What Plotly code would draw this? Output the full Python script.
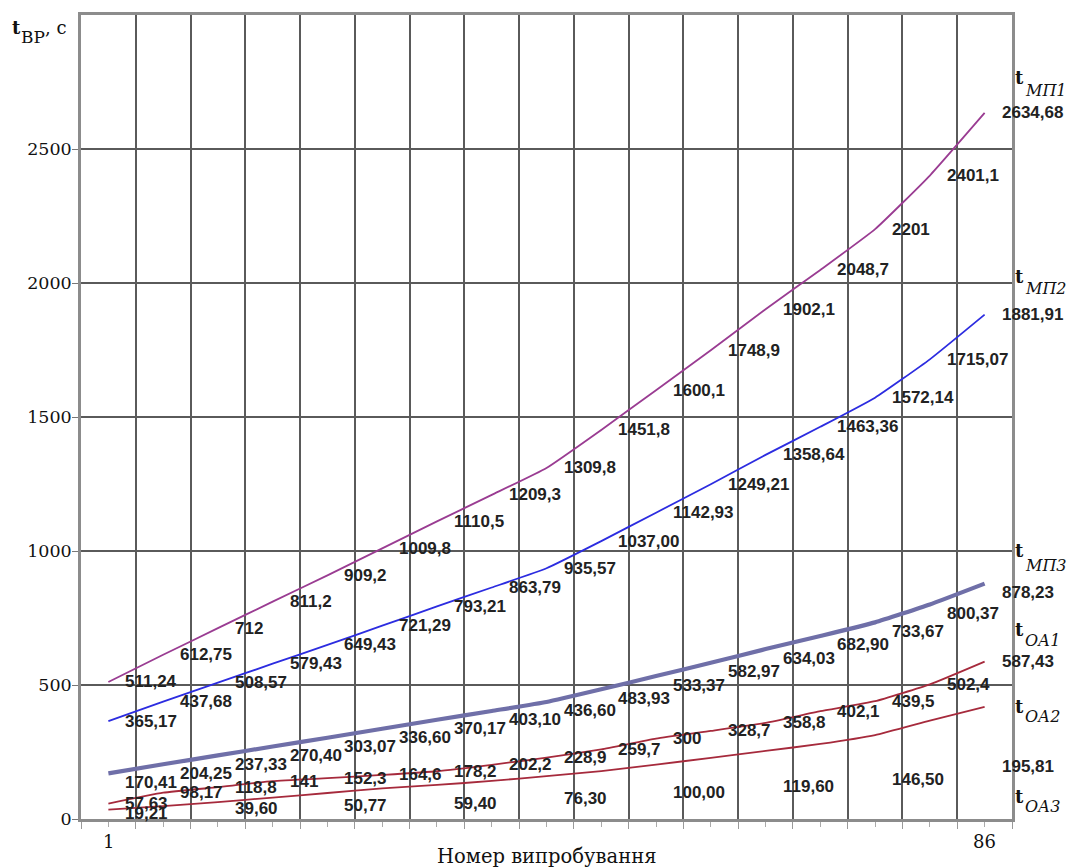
import plotly.graph_objects as go

# ---------------- data ----------------
x_tests = [1, 6.3125, 11.625, 16.9375, 22.25, 27.5625, 32.875, 38.1875, 43.5,
           48.8125, 54.125, 59.4375, 64.75, 70.0625, 75.375, 80.6875, 86]

mp1_labels = ["511,24", "612,75", "712", "811,2", "909,2", "1009,8", "1110,5", "1209,3",
              "1309,8", "1451,8", "1600,1", "1748,9", "1902,1", "2048,7", "2201", "2401,1", "2634,68"]
mp2_labels = ["365,17", "437,68", "508,57", "579,43", "649,43", "721,29", "793,21", "863,79",
              "935,57", "1037,00", "1142,93", "1249,21", "1358,64", "1463,36", "1572,14", "1715,07", "1881,91"]
mp3_labels = ["170,41", "204,25", "237,33", "270,40", "303,07", "336,60", "370,17", "403,10",
              "436,60", "483,93", "533,37", "582,97", "634,03", "682,90", "733,67", "800,37", "878,23"]
oa1_labels = ["57,63", "98,17", "118,8", "141", "152,3", "164,6", "178,2", "202,2",
              "228,9", "259,7", "300", "328,7", "358,8", "402,1", "439,5", "502,4", "587,43"]
oa2_values = [35, 48, 63, 80, 97, 114, 127, 142, 160, 179, 203, 228, 254, 280, 313, 367, 418]
oa3_x = [1, 11.625, 22.25, 32.875, 43.5, 54.125, 64.75, 75.375, 86]
oa3_labels = ["19,21", "39,60", "50,77", "59,40", "76,30", "100,00", "119,60", "146,50", "195,81"]

y_ticks = [0, 500, 1000, 1500, 2000, 2500]
x_tick_labels = [1, 86]
series_names = ["МП1", "МП2", "МП3", "ОА1", "ОА2", "ОА3"]


def num(lbls):
    return [float(s.replace(",", ".")) for s in lbls]


mp1 = num(mp1_labels)
mp2 = num(mp2_labels)
mp3 = num(mp3_labels)
oa1 = num(oa1_labels)
oa3 = num(oa3_labels)

# ---------------- layout geometry ----------------
W, H = 1068, 868
L, R, T, B = 81, 56, 15, 49
PW, PH = W - L - R, H - T - B
X0, XD = -1.65625, 5.3125


def px_x(px):
    return (px - L) / PW


def px_y(py):
    return (H - B - py) / PH


fig = go.Figure()

line_specs = [
    (mp1, "#9a3c92", 1.8),
    (mp2, "#2c2ce0", 1.8),
    (mp3, "#6f6fa8", 4.2),
    (oa1, "#a62a3c", 1.8),
    (oa2_values, "#a62a3c", 1.8),
]
for vals, col, w in line_specs:
    fig.add_trace(go.Scatter(x=x_tests, y=vals, mode="lines",
                             line=dict(color=col, width=w, shape="spline", smoothing=0.4),
                             hoverinfo="skip", showlegend=False))

lab_font = dict(family="Liberation Sans, Arial, sans-serif",
                size=17, color="#222222", weight="bold")
annotations = []
for xs, lbls, vals, ysh in [(x_tests, mp1_labels, mp1, 0), (x_tests, mp2_labels, mp2, 0),
                            (x_tests, mp3_labels, mp3, -9), (x_tests, oa1_labels, oa1, 0),
                            (oa3_x, oa3_labels, oa3, 0)]:
    for xv, s, v in zip(xs, lbls, vals):
        annotations.append(dict(x=xv, y=v, xref="x", yref="y", text=s, showarrow=False,
                                xanchor="left", yanchor="middle", xshift=15, yshift=ysh,
                                font=lab_font))

serif = "DejaVu Serif, Liberation Serif, serif"
# series names at the right
t_y = [78, 276, 550, 629, 706, 796]
sub_y = [90, 288, 565, 640, 716, 806]
for nm, ty, sy in zip(series_names, t_y, sub_y):
    annotations.append(dict(x=px_x(1013), y=px_y(ty), xref="paper", yref="paper",
                            text="<b>t</b>", showarrow=False, xanchor="left", yanchor="middle",
                            font=dict(family=serif, size=18, color="#111")))
    annotations.append(dict(x=px_x(1023), y=px_y(sy), xref="paper", yref="paper",
                            text="<i>" + nm + "</i>", showarrow=False, xanchor="left",
                            yanchor="middle", font=dict(family=serif, size=16, color="#111")))

# y axis title
annotations.append(dict(x=px_x(10), y=px_y(28), xref="paper", yref="paper", text="<b>t</b>",
                        showarrow=False, xanchor="left", yanchor="middle",
                        font=dict(family=serif, size=18, color="#111")))
annotations.append(dict(x=px_x(19), y=px_y(37), xref="paper", yref="paper", text="ВР",
                        showarrow=False, xanchor="left", yanchor="middle",
                        font=dict(family=serif, size=17, color="#111")))
annotations.append(dict(x=px_x(43), y=px_y(27), xref="paper", yref="paper", text=", с",
                        showarrow=False, xanchor="left", yanchor="middle",
                        font=dict(family=serif, size=18, color="#111")))

# x tick labels
for xv in x_tick_labels:
    annotations.append(dict(x=xv, y=px_y(841), xref="x", yref="paper", text=str(xv),
                            showarrow=False, xanchor="center", yanchor="middle",
                            font=dict(family=serif, size=18, color="#111")))
# x title
annotations.append(dict(x=0.5, y=px_y(856), xref="paper", yref="paper",
                        text="Номер випробування", showarrow=False, xanchor="center",
                        yanchor="middle", font=dict(family=serif, size=19.5, color="#111")))

fig.update_layout(
    width=W, height=H,
    margin=dict(l=L, r=R, t=T, b=B, pad=0),
    paper_bgcolor="white", plot_bgcolor="white",
    annotations=annotations,
    xaxis=dict(range=[X0, X0 + 17 * XD], tick0=X0, dtick=XD, showgrid=True,
               gridcolor="#5a5a5a", gridwidth=1.5, showticklabels=False,
               ticks="outside", ticklen=7, tickcolor="#999", tickwidth=1.2,
               minor=dict(tick0=X0, dtick=XD / 2, ticks="outside", ticklen=5,
                          tickcolor="#aaa", showgrid=False),
               showline=True, linecolor="#8c8c8c", linewidth=2.5, mirror=True,
               zeroline=False, fixedrange=True),
    yaxis=dict(range=[0, 3000], tickvals=y_ticks, ticktext=[str(v) for v in y_ticks],
               showgrid=True, gridcolor="#5a5a5a", gridwidth=1.5,
               ticks="outside", ticklen=6, tickcolor="#777", tickwidth=1.4,
               ticklabelstandoff=-3,
               tickfont=dict(family=serif, size=17.5, color="#111"),
               showline=True, linecolor="#8c8c8c", linewidth=2.5, mirror=True,
               zeroline=False, fixedrange=True),
)

fig.write_html("out.html", config={"displayModeBar": False},
               post_script="document.body.style.margin='0px';")
